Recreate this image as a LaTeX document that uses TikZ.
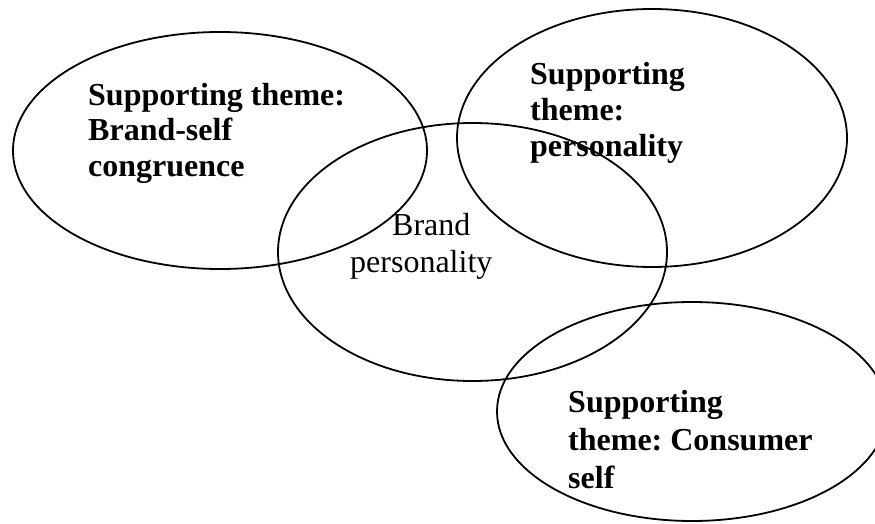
\documentclass[tikz,border=0pt]{standalone}
\usepackage{fontspec}
\setmainfont{Liberation Serif}
\frenchspacing
\begin{document}
\begin{tikzpicture}[x=1pt,y=1pt,
  bubble/.style={draw=black,line width=1.8pt},
  boldline/.style={anchor=base west,inner sep=0pt,font=\fontsize{32}{36}\selectfont\bfseries},
  plainline/.style={anchor=base west,inner sep=0pt,font=\fontsize{32}{36}\selectfont}]
\useasboundingbox (0,0) rectangle (875,523);
% ellipses
\draw[bubble] (220,372.5) ellipse [x radius=207, y radius=118.5];
\draw[bubble] (472.5,271) ellipse [x radius=194.5, y radius=129];
\draw[bubble] (652,385) ellipse [x radius=195, y radius=129];
\draw[bubble] (692,111.5) ellipse [x radius=195, y radius=109.5];
% left text
\node[boldline] (l1) at (88,417.5) {Supporting theme:};
\node[boldline] (l2) at (88,382) {Brand-self};
\node[boldline] (l3) at (88,346.3) {congruence};
% top right text
\node[boldline] (t1) at (530,438) {Supporting};
\node[boldline] (t2) at (530,402.3) {theme:};
\node[boldline] (t3) at (530,366.3) {personality};
% centre text
\node[plainline] (c1) at (392,288) {Brand};
\node[plainline] (c2) at (350,251) {personality};
% bottom right text
\node[boldline] (b1) at (568,110.3) {Supporting};
\node[boldline] (b2) at (568,72.3) {theme: Consumer};
\node[boldline] (b3) at (568,34.7) {self};
\end{tikzpicture}
\end{document}
